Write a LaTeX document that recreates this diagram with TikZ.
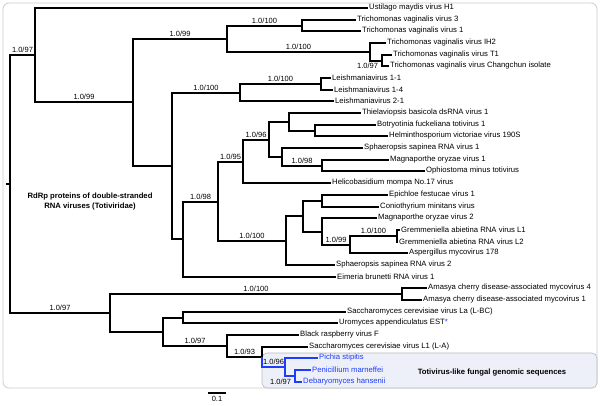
\documentclass[tikz,border=0pt]{standalone}
\usepackage{fontspec}
\setmainfont{Liberation Sans}
\usepackage{tikz}
\definecolor{fungblue}{RGB}{30,60,250}
\definecolor{boxfill}{RGB}{238,240,249}
\tikzset{%
  >=latex,
  tree branch/.style={line width=2pt,line join=miter},
  genomic branch/.style={tree branch,draw=fungblue},
  leaf label/.style={anchor=west,inner sep=1pt,font=\fontsize{7.7}{9.4}\selectfont},
  support label/.style={inner sep=1pt,text=black,font=\fontsize{7.5}{9}\selectfont},
  group label/.style={inner sep=0pt,font=\fontsize{7.7}{9.5}\selectfont\bfseries}%
}

\begin{document}
\begin{tikzpicture}[x=1pt,y=-1pt]
\useasboundingbox (0,0) rectangle (600,405);

% frame and the genomic sequences box
\draw[rounded corners=6pt,gray!40,line width=0.8pt] (3,3) rectangle (597,388);
\draw[rounded corners=5pt,gray!55,fill=boxfill,line width=0.6pt] (262,353) rectangle (597,388);

% leaves
\node[leaf label] (umv) at (368,8) {Ustilago maydis virus H1};
\node[leaf label] (tvv3) at (356,20) {Trichomonas vaginalis virus 3};
\node[leaf label] (tvv1) at (361,31) {Trichomonas vaginalis virus 1};
\node[leaf label] (ih2) at (386,43) {Trichomonas vaginalis virus IH2};
\node[leaf label] (t1) at (392,55) {Trichomonas vaginalis virus T1};
\node[leaf label] (chc) at (389,66) {Trichomonas vaginalis virus Changchun isolate};
\node[leaf label] (lv11) at (331,78) {Leishmaniavirus 1-1};
\node[leaf label] (lv14) at (333,90) {Leishmaniavirus 1-4};
\node[leaf label] (lv21) at (334,101) {Leishmaniavirus 2-1};
\node[leaf label] (tbv) at (361,113) {Thielaviopsis basicola dsRNA virus 1};
\node[leaf label] (bft) at (376,125) {Botryotinia fuckeliana totivirus 1};
\node[leaf label] (hvv) at (388,136) {Helminthosporium victoriae virus 190S};
\node[leaf label] (ssv1) at (363,148) {Sphaeropsis sapinea RNA virus 1};
\node[leaf label] (mov1) at (389,160) {Magnaporthe oryzae virus 1};
\node[leaf label] (omt) at (425,171) {Ophiostoma minus totivirus};
\node[leaf label] (hmv) at (331,183) {Helicobasidium mompa No.17 virus};
\node[leaf label] (efv) at (388,195) {Epichloe festucae virus 1};
\node[leaf label] (cmv) at (379,207) {Coniothyrium minitans virus};
\node[leaf label] (mov2) at (377,218) {Magnaporthe oryzae virus 2};
\node[leaf label] (gav1) at (400,230) {Gremmeniella abietina RNA virus L1};
\node[leaf label] (gav2) at (398,242) {Gremmeniella abietina RNA virus L2};
\node[leaf label] (amv) at (408,253) {Aspergillus mycovirus 178};
\node[leaf label] (ssv2) at (335,265) {Sphaeropsis sapinea RNA virus 2};
\node[leaf label] (ebv) at (336,277) {Eimeria brunetti RNA virus 1};
\node[leaf label] (acv4) at (427,288) {Amasya cherry disease-associated mycovirus 4};
\node[leaf label] (acv1) at (422,300) {Amasya cherry disease-associated mycovirus 1};
\node[leaf label] (scvla) at (346,312) {Saccharomyces cerevisiae virus La (L-BC)};
\node[leaf label] (uae) at (338,323) {Uromyces appendiculatus EST\textcolor{fungblue}{*}};
\node[leaf label] (brv) at (299,335) {Black raspberry virus F};
\node[leaf label] (scvl1) at (308,347) {Saccharomyces cerevisiae virus L1 (L-A)};
\node[leaf label,text=fungblue] (pst) at (318,358) {Pichia stipitis};
\node[leaf label,text=fungblue] (pma) at (311,370) {Penicillium marneffei};
\node[leaf label,text=fungblue] (dha) at (302,382) {Debaryomyces hansenii};

% inner nodes of the tree
\coordinate (stub) at (6,184);
\coordinate (root) at (10,184);
\coordinate (A) at (35,55);
\coordinate (B) at (133,102);
\coordinate (C) at (227,39);
\coordinate (E) at (302,26);
\coordinate (F) at (370,52);
\coordinate (G) at (382,61);
\coordinate (D) at (172,166);
\coordinate (H) at (240,93);
\coordinate (W) at (321,84);
\coordinate (I) at (183,239);
\coordinate (J) at (218,202);
\coordinate (K) at (243,162);
\coordinate (M) at (269,140);
\coordinate (N) at (289,122);
\coordinate (P) at (315,131);
\coordinate (O) at (282,157);
\coordinate (Q) at (322,166);
\coordinate (L) at (286,241);
\coordinate (R) at (303,216);
\coordinate (S) at (322,201);
\coordinate (T) at (322,232);
\coordinate (U) at (350,245);
\coordinate (V) at (397,236);
\coordinate (X) at (110,313);
\coordinate (Y) at (402,294);
\coordinate (Z) at (163,332);
\coordinate (AA) at (183,318);
\coordinate (AB) at (227,346);
\coordinate (AC) at (262,357);
\coordinate (AD) at (285,367);
\coordinate (AE) at (295,376);

% branches
\draw[tree branch] (stub) -- (root);
\draw[tree branch] (root) |- node[support label,pos=.75,above] {1.0/97} (A);
\draw[tree branch] (root) |- node[support label,pos=.75,above] {1.0/97} (X);
\draw[tree branch] (A) |- (umv.west);
\draw[tree branch] (A) |- node[support label,pos=.75,above] {1.0/99} (B);
\draw[tree branch] (B) |- node[support label,pos=.75,above] {1.0/99} (C);
\draw[tree branch] (B) |- (D);
\draw[tree branch] (C) |- node[support label,pos=.75,above] {1.0/100} (E);
\draw[tree branch] (C) |- node[support label,pos=.75,above] {1.0/100} (F);
\draw[tree branch] (E) |- (tvv3.west);
\draw[tree branch] (E) |- (tvv1.west);
\draw[tree branch] (F) |- (ih2.west);
\draw[tree branch] (F) |- (G);
\draw[tree branch] (G) |- (t1.west);
\draw[tree branch] (G) |- node[support label,pos=.5,left=2pt] {1.0/97} (chc.west);
\draw[tree branch] (D) |- node[support label,pos=.75,above] {1.0/100} (H);
\draw[tree branch] (D) |- (I);
\draw[tree branch] (H) |- node[support label,pos=.75,above] {1.0/100} (W);
\draw[tree branch] (H) |- (lv21.west);
\draw[tree branch] (W) |- (lv11.west);
\draw[tree branch] (W) |- (lv14.west);
\draw[tree branch] (I) |- node[support label,pos=.75,above] {1.0/98} (J);
\draw[tree branch] (I) |- (ebv.west);
\draw[tree branch] (J) |- node[support label,pos=.75,above] {1.0/95} (K);
\draw[tree branch] (J) |- node[support label,pos=.75,above] {1.0/100} (L);
\draw[tree branch] (K) |- node[support label,pos=.75,above] {1.0/96} (M);
\draw[tree branch] (K) |- (hmv.west);
\draw[tree branch] (M) |- (N);
\draw[tree branch] (M) |- (O);
\draw[tree branch] (N) |- (tbv.west);
\draw[tree branch] (N) |- (P);
\draw[tree branch] (P) |- (bft.west);
\draw[tree branch] (P) |- (hvv.west);
\draw[tree branch] (O) |- (ssv1.west);
\draw[tree branch] (O) |- node[support label,pos=.75,above] {1.0/98} (Q);
\draw[tree branch] (Q) |- (mov1.west);
\draw[tree branch] (Q) |- (omt.west);
\draw[tree branch] (L) |- (R);
\draw[tree branch] (L) |- (ssv2.west);
\draw[tree branch] (R) |- (S);
\draw[tree branch] (R) |- (T);
\draw[tree branch] (S) |- (efv.west);
\draw[tree branch] (S) |- (cmv.west);
\draw[tree branch] (T) |- (mov2.west);
\draw[tree branch] (T) |- node[support label,pos=.75,above] {1.0/99} (U);
\draw[tree branch] (U) |- node[support label,pos=.75,above] {1.0/100} (V);
\draw[tree branch] (U) |- (amv.west);
\draw[tree branch] (V) |- (gav1.west);
\draw[tree branch] (V) |- (gav2.west);
\draw[tree branch] (X) |- node[support label,pos=.75,above] {1.0/100} (Y);
\draw[tree branch] (X) |- (Z);
\draw[tree branch] (Y) |- (acv4.west);
\draw[tree branch] (Y) |- (acv1.west);
\draw[tree branch] (Z) |- (AA);
\draw[tree branch] (Z) |- node[support label,pos=.75,above] {1.0/97} (AB);
\draw[tree branch] (AA) |- (scvla.west);
\draw[tree branch] (AA) |- (uae.west);
\draw[tree branch] (AB) |- (brv.west);
\draw[tree branch] (AB) |- node[support label,pos=.75,above] {1.0/93} (AC);
\draw[tree branch] (AC) |- (scvl1.west);
\draw[genomic branch] (AC) |- node[support label,pos=.75,above] {1.0/96} (AD);
\draw[genomic branch] (AD) |- (pst.west);
\draw[genomic branch] (AD) |- (AE);
\draw[genomic branch] (AE) |- (pma.west);
\draw[genomic branch] (AE) |- node[support label,pos=.5,left=2pt] {1.0/97} (dha.west);

% group labels
\node[group label,align=center] (dsrna) at (90,201.5) {RdRp proteins of double-stranded\\RNA viruses (Totiviridae)};
\node[group label] (fungal) at (492,373) {Totivirus-like fungal genomic sequences};

% scale bar
\coordinate (sbl) at (208,393);
\coordinate (sbr) at (226,393);
\draw[line width=1.4pt] (sbl) -- node[support label,below=1.5pt] {0.1} (sbr);
\end{tikzpicture}
\end{document}
